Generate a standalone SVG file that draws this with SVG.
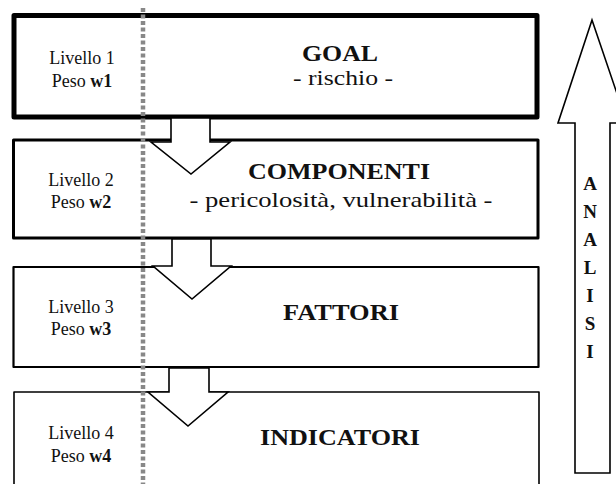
<svg xmlns="http://www.w3.org/2000/svg" width="616" height="484" viewBox="0 0 616 484">
<style>
.box{fill:#fff;stroke:#000;stroke-linejoin:round}
.lvl{font-family:"Liberation Serif","Times New Roman",serif;font-size:18px;fill:#111;text-anchor:middle}
.ttl{font-family:"Liberation Serif","Times New Roman",serif;font-size:23px;font-weight:bold;fill:#111;text-anchor:middle}
.sub{font-family:"Liberation Serif","Times New Roman",serif;font-size:21px;fill:#111;text-anchor:middle}
.vl{font-family:"Liberation Serif","Times New Roman",serif;font-size:19px;font-weight:bold;fill:#111;text-anchor:middle}
.arr{fill:#fff;stroke:#000;stroke-width:1.6;stroke-linejoin:miter}
</style>
<rect width="616" height="484" fill="#fff"/>
<g id="level1">
<rect class="box" x="14" y="15.5" width="523" height="101.5" stroke-width="5"/>
<text class="lvl" x="82" y="64">Livello 1</text>
<text class="lvl" x="82" y="87">Peso <tspan font-weight="bold">w1</tspan></text>
<text class="ttl" x="340" y="61" textLength="76" lengthAdjust="spacingAndGlyphs">GOAL</text>
<text class="sub" x="343" y="85" textLength="100" lengthAdjust="spacingAndGlyphs">- rischio -</text>
</g>
<g id="level2">
<rect class="box" x="13.5" y="140" width="524.5" height="98" stroke-width="3"/>
<text class="lvl" x="81" y="186">Livello 2</text>
<text class="lvl" x="81" y="208">Peso <tspan font-weight="bold">w2</tspan></text>
<text class="ttl" x="339" y="179" textLength="182" lengthAdjust="spacingAndGlyphs">COMPONENTI</text>
<text class="sub" x="341" y="207" textLength="303" lengthAdjust="spacingAndGlyphs">- pericolosità, vulnerabilità -</text>
</g>
<g id="level3">
<rect class="box" x="13.5" y="267" width="525" height="100" stroke-width="2.2"/>
<text class="lvl" x="81" y="313">Livello 3</text>
<text class="lvl" x="81" y="335">Peso <tspan font-weight="bold">w3</tspan></text>
<text class="ttl" x="341" y="320" textLength="116" lengthAdjust="spacingAndGlyphs">FATTORI</text>
</g>
<g id="level4">
<rect class="box" x="14" y="392" width="525" height="110" stroke-width="1.6"/>
<text class="lvl" x="81" y="439">Livello 4</text>
<text class="lvl" x="81" y="462">Peso <tspan font-weight="bold">w4</tspan></text>
<text class="ttl" x="340" y="445" textLength="160" lengthAdjust="spacingAndGlyphs">INDICATORI</text>
</g>
<g id="connectors">
<polygon class="arr" points="171,118 210,118 210,142 230,142 191,174 151,142 171,142"/>
<polygon class="arr" points="172,239 211,239 211,266 231,266 192,299 153,266 172,266"/>
<polygon class="arr" points="169,368 209,368 209,392 228,392 188,426 148,392 169,392"/>
</g>
<g id="analisi">
<polygon points="575,473 575,123 558,123 592,20 627,123 610,123 610,473" fill="#fff" stroke="#000" stroke-width="1.6"/>
<text class="vl" x="590" y="190">A</text>
<text class="vl" x="590" y="218">N</text>
<text class="vl" x="590" y="246">A</text>
<text class="vl" x="590" y="274">L</text>
<text class="vl" x="590" y="302">I</text>
<text class="vl" x="590" y="330">S</text>
<text class="vl" x="590" y="358">I</text>
</g>
<line x1="143" y1="8" x2="143" y2="484" stroke="#888" stroke-width="4.5" stroke-dasharray="4 2.5"/>
</svg>
